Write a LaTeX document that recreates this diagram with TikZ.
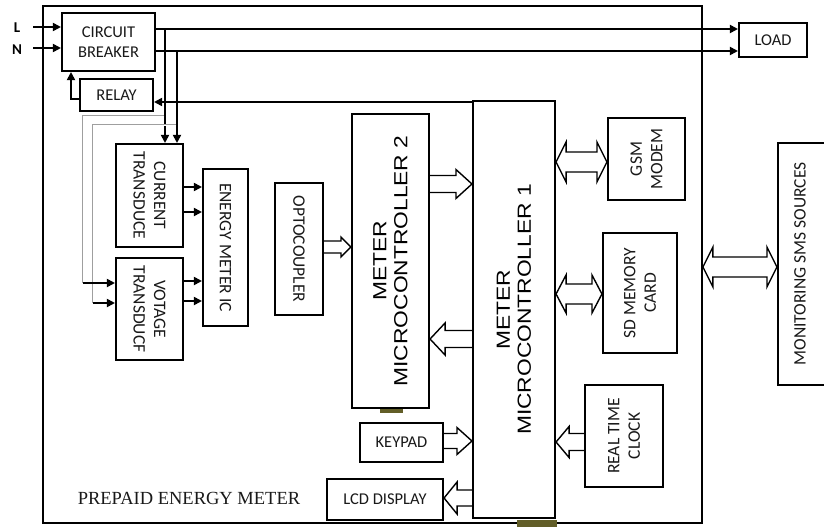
\documentclass[tikz,border=0pt]{standalone}
\usepackage{fontspec}
\setmainfont{Carlito}
\newfontfamily\mcfont[FakeStretch=1.2]{Liberation Sans}
\newfontfamily\serfont{Liberation Serif}
\usetikzlibrary{arrows.meta,calc}
\newcommand\bx[6][]{\node[box,#1,minimum width={#5-#3},minimum height={#6-#4}] (#2) at ({(#3+#5)/2},{-(#4+#6)/2}) {};}
% single block arrow: from-anchor, to-anchor, y, shaft half, head half, head length
\newcommand\blk[6]{\draw[blk] let \p1=(#1), \p2=(#2), \n1={ifthenelse(\x2>\x1,1,-1)} in
  (\x1,{-(#3)+#4}) -- ({\x2-\n1*#6},{-(#3)+#4}) -- ({\x2-\n1*#6},{-(#3)+#5}) -- (\x2,{-(#3)})
  -- ({\x2-\n1*#6},{-(#3)-#5}) -- ({\x2-\n1*#6},{-(#3)-#4}) -- (\x1,{-(#3)-#4});}
% double block arrow
\newcommand\dblk[6]{\draw[blk] let \p1=(#1), \p2=(#2), \n1={ifthenelse(\x2>\x1,1,-1)} in
  (\x1,{-(#3)}) -- ({\x1+\n1*#6},{-(#3)+#5}) -- ({\x1+\n1*#6},{-(#3)+#4}) -- ({\x2-\n1*#6},{-(#3)+#4})
  -- ({\x2-\n1*#6},{-(#3)+#5}) -- (\x2,{-(#3)}) -- ({\x2-\n1*#6},{-(#3)-#5}) -- ({\x2-\n1*#6},{-(#3)-#4})
  -- ({\x1+\n1*#6},{-(#3)-#4}) -- ({\x1+\n1*#6},{-(#3)-#5}) -- cycle;}
\begin{document}
\begin{tikzpicture}[x=1pt,y=1pt,
  box/.style={draw,line width=2.1pt,inner sep=0pt},
  lbl/.style={font=\fontsize{16.5}{19.5}\selectfont,align=center,text=black!90},
  rlbl/.style={font=\fontsize{17.5}{20.5}\selectfont,align=center,text=black!90},
  mclbl/.style={font=\mcfont\fontsize{19}{21}\selectfont,align=center,rotate=90},
  wire/.style={line width=1.8pt},
  tip/.style={-{Triangle[length=8pt,width=8pt]}},
  tap/.style={draw=gray!75,double=white,double distance=1pt,line width=0.5pt},
  blk/.style={draw,line width=1.4pt,fill=white,line join=miter},
  bar/.style={fill=olive!60!black}
]
\clip (0,0) rectangle (824,-527);
\fill[white] (0,0) rectangle (824,-527);
% outer meter box
\bx[line width=1.8pt]{meter}{43}{6}{702}{523}
\node[font=\serfont\fontsize{18.5}{20}\selectfont,text=black!90] (pem) at (189,-498) {PREPAID ENERGY METER};
% boxes
\bx{cb}{62}{13}{155}{71}
\node[lbl] (cbt) at (cb) {CIRCUIT\\BREAKER};
\bx{relay}{80}{79}{153}{111}
\node[lbl] (relayt) at (relay) {RELAY};
\bx{load}{739}{23}{807}{57}
\node[lbl] (loadt) at (load) {LOAD};
\bx{ct}{116}{144}{183}{247}
\node[rlbl,rotate=-90] (ctt) at (ct) {CURRENT\\TRANSDUCE};
\bx{vt}{116}{258}{183}{360}
\node[rlbl,rotate=-90] (vtt) at (vt) {VOTAGE\\TRANSDUCF};
\bx{emic}{203}{169}{248}{326}
\node[rlbl,rotate=-90] (emict) at (emic) {ENERGY METER IC};
\bx{opto}{275}{183}{323}{315}
\node[rlbl,rotate=-90] (optot) at (opto) {OPTOCOUPLER};
\bx{mc2}{352}{114}{429}{408}
\node[mclbl] (mc2t) at (mc2) {METER\\MICROCONTROLLER 2};
\bx{mc1}{473}{101}{555}{518}
\node[mclbl] (mc1t) at (mc1) {METER\\MICROCONTROLLER 1};
\bx{gsm}{608}{118}{685}{200}
\node[rlbl,rotate=90] (gsmt) at (gsm) {GSM\\MODEM};
\bx{sd}{603}{233}{677}{353}
\node[rlbl,rotate=90] (sdt) at (sd) {SD MEMORY\\CARD};
\bx{rtc}{585}{385}{663}{487}
\node[rlbl,rotate=90] (rtct) at (rtc) {REAL TIME\\CLOCK};
\bx{keypad}{360}{423}{443}{462}
\node[lbl] (keypadt) at (keypad) {KEYPAD};
\bx{lcd}{327}{479}{443}{520}
\node[lbl] (lcdt) at (lcd) {LCD DISPLAY};
\bx{mon}{778}{143}{860}{385}
\node[rlbl,rotate=90] (mont) at (800,-264) {MONITORING SMS SOURCES};
% artefact bars
\fill[bar] (380,-409) rectangle (403,-413);
\fill[bar] (517,-520) rectangle (557,-527);
% L and N inputs
\node[font=\bfseries\fontsize{15}{17}\selectfont] (L) at (17,-28) {L};
\node[font=\bfseries\fontsize{15}{17}\selectfont] (N) at (17,-50) {N};
\coordinate (Lin) at (33,-27);
\coordinate (Nin) at (33,-48);
\draw[wire,tip] (Lin) -- (cb.west |- Lin);
\draw[wire,tip] (Nin) -- (cb.west |- Nin);
% breaker to load
\coordinate (o1) at (155,-29);
\coordinate (o2) at (155,-51);
\draw[wire,tip] (o1) -- (load.west |- o1);
\draw[wire,tip] (o2) -- (load.west |- o2);
% taps to current transducer
\coordinate (j1) at (165,-29);
\coordinate (j2) at (177,-51);
\draw[wire,tip] (j1) -- (j1 |- ct.north);
\draw[wire,tip] (j2) -- (j2 |- ct.north);
% thin taps to voltage transducer
\coordinate (k1) at (164,-116);
\coordinate (k2) at (176,-125);
\coordinate (v1) at (83,-283);
\coordinate (v2) at (93,-303);
\draw[tap] (k1) -| (v1);
\draw[tap] (k2) -| (v2);
\draw[wire,tip] (v1) -- (vt.west |- v1);
\draw[wire,tip] (v2) -- (vt.west |- v2);
% transducers to energy meter IC
\foreach \yy in {187,212} \draw[wire,tip] (ct.east |- 0,-\yy) -- (emic.west |- 0,-\yy);
\foreach \yy in {281,301} \draw[wire,tip] (vt.east |- 0,-\yy) -- (emic.west |- 0,-\yy);
% relay to breaker
\coordinate (r1) at (71,-99);
\draw[wire,tip] (relay.west |- r1) -- (r1) -- (r1 |- cb.south);
% microcontroller 1 to relay
\draw[wire,tip] (mc1.west |- 0,-102) -- (relay.east |- 0,-102);
% block arrows
\blk{opto.east}{mc2.west}{247}{6}{10}{10}
\blk{mc2.east}{mc1.west}{184}{8.5}{14.5}{16}
\blk{mc1.west}{mc2.east}{339}{8.5}{16}{15}
\blk{keypad.east}{mc1.west}{441}{7.5}{13.5}{15}
\blk{mc1.west}{lcd.east}{498}{8}{16}{13}
\blk{rtc.west}{mc1.east}{442}{8.5}{15.5}{13}
\dblk{mc1.east}{gsm.west}{162}{10}{20}{10}
\dblk{mc1.east}{sd.west}{294}{10}{19}{10}
\dblk{meter.east}{mon.west}{267}{10}{20}{10}
\end{tikzpicture}
\end{document}
